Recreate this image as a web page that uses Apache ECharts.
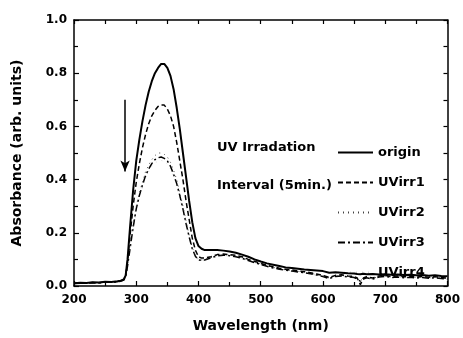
<!DOCTYPE html>
<html><head><meta charset="utf-8">
<script src="https://cdn.jsdelivr.net/npm/echarts@6/dist/echarts.min.js"></script>
<style>html,body{margin:0;padding:0;background:#fff}#c{width:463px;height:338px}</style>
</head><body><div id="c"></div>
<script>
const wavelength = [200,210,220,230,240,250,260,270,275,280,283,286,290,295,300,305,310,315,320,325,330,335,340,345,350,355,360,365,370,375,380,385,390,395,400,405,410,420,430,440,450,460,470,480,490,500,510,520,530,540,550,560,570,580,590,600,610,620,630,640,650,655,660,665,670,680,690,700,710,720,730,740,750,760,770,780,790,800];
const origin = [0.010,0.012,0.011,0.014,0.013,0.016,0.015,0.018,0.020,0.025,0.04,0.10,0.22,0.36,0.47,0.55,0.62,0.68,0.73,0.77,0.80,0.82,0.835,0.835,0.82,0.79,0.74,0.67,0.59,0.50,0.41,0.32,0.24,0.18,0.15,0.14,0.135,0.135,0.135,0.133,0.13,0.125,0.118,0.11,0.10,0.092,0.085,0.08,0.075,0.07,0.068,0.065,0.062,0.06,0.058,0.056,0.05,0.052,0.05,0.048,0.047,0.045,0.044,0.046,0.044,0.045,0.043,0.044,0.042,0.043,0.041,0.042,0.04,0.041,0.039,0.04,0.038,0.037];
const uvirr1 = [0.010,0.011,0.012,0.013,0.012,0.015,0.016,0.017,0.019,0.024,0.04,0.09,0.19,0.30,0.39,0.46,0.52,0.57,0.61,0.64,0.66,0.675,0.68,0.68,0.665,0.64,0.60,0.54,0.47,0.40,0.32,0.25,0.18,0.135,0.11,0.105,0.105,0.11,0.118,0.12,0.118,0.115,0.11,0.10,0.093,0.085,0.078,0.072,0.067,0.063,0.06,0.057,0.054,0.05,0.045,0.04,0.032,0.04,0.042,0.038,0.036,0.03,0.005,0.03,0.035,0.03,0.038,0.04,0.036,0.038,0.035,0.037,0.034,0.036,0.033,0.035,0.032,0.03];
const uvirr2 = [0.009,0.011,0.010,0.012,0.013,0.014,0.015,0.016,0.018,0.022,0.035,0.08,0.15,0.23,0.30,0.35,0.39,0.43,0.455,0.475,0.49,0.50,0.50,0.495,0.485,0.465,0.435,0.40,0.35,0.30,0.245,0.19,0.145,0.115,0.10,0.098,0.10,0.108,0.115,0.118,0.116,0.112,0.106,0.098,0.09,0.083,0.076,0.07,0.065,0.061,0.058,0.055,0.052,0.048,0.043,0.038,0.03,0.038,0.04,0.036,0.034,0.028,0.02,0.028,0.033,0.028,0.036,0.038,0.034,0.036,0.033,0.035,0.032,0.034,0.031,0.033,0.03,0.028];
const uvirr3 = [0.009,0.010,0.011,0.012,0.012,0.014,0.014,0.016,0.018,0.022,0.035,0.075,0.14,0.22,0.29,0.34,0.38,0.415,0.44,0.46,0.475,0.482,0.485,0.48,0.47,0.45,0.42,0.385,0.34,0.29,0.235,0.185,0.14,0.112,0.098,0.096,0.098,0.106,0.113,0.116,0.114,0.11,0.104,0.096,0.088,0.081,0.074,0.068,0.063,0.059,0.056,0.053,0.05,0.046,0.041,0.036,0.028,0.036,0.038,0.034,0.032,0.026,0.018,0.026,0.031,0.026,0.034,0.036,0.032,0.034,0.031,0.033,0.03,0.032,0.029,0.031,0.028,0.026];
const uvirr4 = [0.009,0.010,0.010,0.011,0.012,0.013,0.014,0.015,0.017,0.021,0.033,0.07,0.135,0.21,0.28,0.33,0.37,0.405,0.43,0.45,0.462,0.47,0.472,0.468,0.458,0.44,0.41,0.375,0.33,0.28,0.228,0.18,0.137,0.11,0.096,0.094,0.096,0.104,0.111,0.114,0.112,0.108,0.102,0.094,0.086,0.079,0.072,0.066,0.061,0.057,0.054,0.051,0.048,0.044,0.04,0.035,0.027,0.035,0.037,0.033,0.031,0.025,0.017,0.025,0.03,0.025,0.033,0.035,0.031,0.033,0.03,0.032,0.029,0.031,0.028,0.03,0.027,0.025];
const seriesNames = ['origin','UVirr1','UVirr2','UVirr3','UVirr4'];
const xTicks = [200,300,400,500,600,700,800];
const yTicks = [0.0,0.2,0.4,0.6,0.8,1.0];
const arrowX = 282, arrowFrom = 0.70, arrowTo = 0.43;

const FONT = 'DejaVu Sans';
const pair = a => wavelength.map((w,i)=>[w,a[i]]);
const styles = [
  {color:'#000', width:2, type:'solid'},
  {color:'#000', width:1.5, type:[5,3]},
  {color:'#444', width:1, type:[1,4]},
  {color:'#000', width:1.5, type:[7,3,2,3]},
  {color:'#d8d8d8', width:1, type:[1,5]}
];
const datas = [origin,uvirr1,uvirr2,uvirr3,uvirr4];
const series = seriesNames.map((n,i)=>({
  name:n, type:'line', data:pair(datas[i]), symbol:'none', showSymbol:false, smooth:false,
  lineStyle:styles[i], itemStyle:{color:styles[i].color}, z: 10-i,
  animation:false
}));
series[0].markLine = {
  silent:true, symbol:['none','arrow'], symbolSize:[7,11], label:{show:false},
  lineStyle:{color:'#000', width:1.5, type:'solid'},
  data:[[{coord:[arrowX,arrowFrom]},{coord:[arrowX,arrowTo]}]]
};
const axisCommon = {
  axisLine:{show:true, onZero:false, lineStyle:{color:'#000', width:1.5}},
  splitLine:{show:false},
};
const chart = echarts.init(document.getElementById('c'));
chart.setOption({
  animation:false,
  grid:{left:74, right:11, top:20, bottom:52},
  legend:{
    orient:'vertical', left:332, top:141, itemWidth:35, itemHeight:14, itemGap:17,
    data:seriesNames, textStyle:{fontFamily:FONT, fontWeight:'bold', fontSize:13, color:'#000'},
    itemStyle:{color:'rgba(0,0,0,0)', borderWidth:0, opacity:0},
    selectedMode:false
  },
  xAxis:[
    Object.assign({type:'value', min:200, max:800, interval:100, position:'bottom',
      axisTick:{inside:true, length:5, lineStyle:{color:'#000', width:1.2}},
      minorTick:{show:true, splitNumber:2, length:4, lineStyle:{color:'#000', width:1.2}},
      axisLabel:{margin:8, fontFamily:FONT, fontWeight:'bold', fontSize:12, color:'#000',
        formatter:v=>xTicks.includes(v)?String(v):''},
      name:'Wavelength (nm)', nameLocation:'middle', nameGap:33,
      nameTextStyle:{fontFamily:FONT, fontWeight:'bold', fontSize:14, color:'#000'}}, axisCommon),
    Object.assign({type:'value', min:200, max:800, interval:50, position:'top',
      axisTick:{inside:true, length:4, lineStyle:{color:'#000', width:1.2}},
      axisLabel:{show:false}}, axisCommon)
  ],
  yAxis:[
    Object.assign({type:'value', min:0, max:1, interval:0.2, position:'left',
      axisTick:{inside:true, length:5, lineStyle:{color:'#000', width:1.2}},
      minorTick:{show:true, splitNumber:2, length:4, lineStyle:{color:'#000', width:1.2}},
      axisLabel:{margin:7, fontFamily:FONT, fontWeight:'bold', fontSize:12, color:'#000',
        formatter:v=>{const t=yTicks.find(y=>Math.abs(y-v)<1e-6);return t===undefined?'':t.toFixed(1);}},
      name:'Absorbance (arb. units)', nameLocation:'middle', nameGap:50, nameRotate:90,
      nameTextStyle:{fontFamily:FONT, fontWeight:'bold', fontSize:14, color:'#000'}}, axisCommon),
    Object.assign({type:'value', min:0, max:1, interval:0.1, position:'right',
      axisTick:{inside:true, length:4, lineStyle:{color:'#000', width:1.2}},
      axisLabel:{show:false}}, axisCommon)
  ],
  graphic:[
    {type:'text', left:217, top:141, style:{text:'UV Irradation', fontFamily:FONT, fontWeight:'bold', fontSize:13, fill:'#000'}},
    {type:'text', left:217, top:179, style:{text:'Interval (5min.)', fontFamily:FONT, fontWeight:'bold', fontSize:13, fill:'#000'}}
  ],
  series:series
});
</script></body></html>
